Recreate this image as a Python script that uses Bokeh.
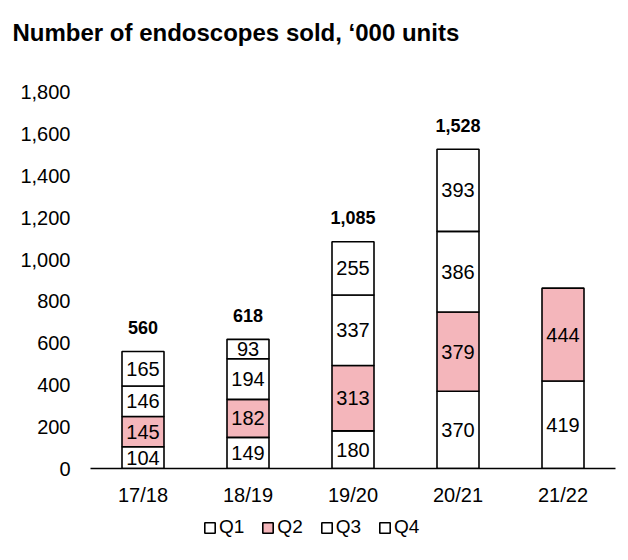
from bokeh.plotting import figure
from bokeh.models import ColumnDataSource, Range1d, FactorRange, Legend, LegendItem, NumeralTickFormatter, FixedTicker
from bokeh.layouts import column
from bokeh.embed import file_html
from bokeh.resources import INLINE
from bokeh.core.properties import value

categories = ["17/18", "18/19", "19/20", "20/21", "21/22"]
q1 = [104, 149, 180, 370, 419]
q2 = [145, 182, 313, 379, 444]
q3 = [146, 194, 337, 386, 0]
q4 = [165, 93, 255, 393, 0]
totals = [560, 618, 1085, 1528, None]
series_names = ["Q1", "Q2", "Q3", "Q4"]
series_colors = ["#FFFFFF", "#F4B6BB", "#FFFFFF", "#FFFFFF"]
y_ticks = [0, 200, 400, 600, 800, 1000, 1200, 1400, 1600, 1800]

FONT = "Liberation Sans"

p = figure(width=628, height=508, x_range=FactorRange(*categories, range_padding=0),
           y_range=Range1d(0, 1943), output_backend="svg", toolbar_location=None,
           min_border_left=90, min_border_right=13, min_border_top=60, min_border_bottom=40)
p.outline_line_color = None
p.xgrid.grid_line_color = None
p.ygrid.grid_line_color = None

p.title.text = "Number of endoscopes sold, \u2018000 units"
p.title.text_font = FONT
p.title.text_font_size = "24px"
p.title.text_font_style = "bold"
p.title.text_color = "black"
p.title.align = "left"
p.title.offset = -78
p.title.standoff = 33

series = [q1, q2, q3, q4]
bottoms = [0] * len(categories)
for name, vals, col in zip(series_names, series, series_colors):
    xs, tops, bots, mids, labels = [], [], [], [], []
    for i, c in enumerate(categories):
        v = vals[i]
        if v > 0:
            xs.append(c)
            bots.append(bottoms[i])
            tops.append(bottoms[i] + v)
            mids.append(bottoms[i] + v / 2)
            labels.append(f"{v:,}")
        bottoms[i] += v
    src = ColumnDataSource(dict(x=xs, top=tops, bottom=bots, mid=mids, label=labels))
    p.vbar(x="x", top="top", bottom="bottom", width=0.4, source=src,
           fill_color=col, line_color="black", line_width=1.6)
    p.text(x="x", y="mid", text="label", source=src, text_font=value(FONT),
           text_font_size="20px", text_align="center", text_baseline="middle", text_color="black")

tx = [c for c, t in zip(categories, totals) if t is not None]
ty = [t for t in totals if t is not None]
tl = [f"{t:,}" for t in ty]
tsrc = ColumnDataSource(dict(x=tx, y=ty, label=tl))
p.text(x="x", y="y", text="label", source=tsrc, text_font=value(FONT), text_font_size="18px",
       text_font_style="bold", text_align="center", text_baseline="middle", y_offset=-24,
       text_color="black")

p.yaxis.ticker = FixedTicker(ticks=y_ticks)
p.yaxis.formatter = NumeralTickFormatter(format="0,0")
p.yaxis.axis_line_color = None
p.yaxis.major_tick_line_color = None
p.yaxis.minor_tick_line_color = None
p.yaxis.major_label_text_font = FONT
p.yaxis.major_label_text_font_size = "20px"
p.yaxis.major_label_text_color = "black"
p.yaxis.major_label_standoff = 14

p.xaxis.axis_line_color = "black"
p.xaxis.axis_line_width = 1.6
p.xaxis.major_tick_line_color = None
p.xaxis.minor_tick_line_color = None
p.xaxis.major_label_text_font = FONT
p.xaxis.major_label_text_font_size = "20px"
p.xaxis.major_label_text_color = "black"
p.xaxis.major_label_standoff = 9

# legend strip below the chart (frame aligned with the main chart's frame)
lp = figure(width=628, height=52, x_range=Range1d(0, 1), y_range=Range1d(0, 1),
            output_backend="svg", toolbar_location=None,
            min_border_left=0, min_border_right=0, min_border_top=0, min_border_bottom=0)
lp.outline_line_color = None
lp.axis.visible = False
lp.grid.visible = False
nan = float("nan")
items = []
for name, col in zip(series_names, series_colors):
    r = lp.vbar(x=[nan], top=[nan], bottom=[nan], width=0.1, fill_color=col, line_color="black", line_width=1.6)
    items.append(LegendItem(label=name, renderers=[r]))
legend = Legend(items=items, orientation="horizontal", location=(113, 22),
                label_text_font=FONT, label_text_font_size="19px", label_text_color="black",
                glyph_width=13, glyph_height=13, label_standoff=3, spacing=17,
                border_line_color=None, background_fill_alpha=0, padding=0, margin=0)
lp.add_layout(legend)

layout = column(p, lp, spacing=0)
open("out.html", "w").write(file_html(layout, INLINE))
